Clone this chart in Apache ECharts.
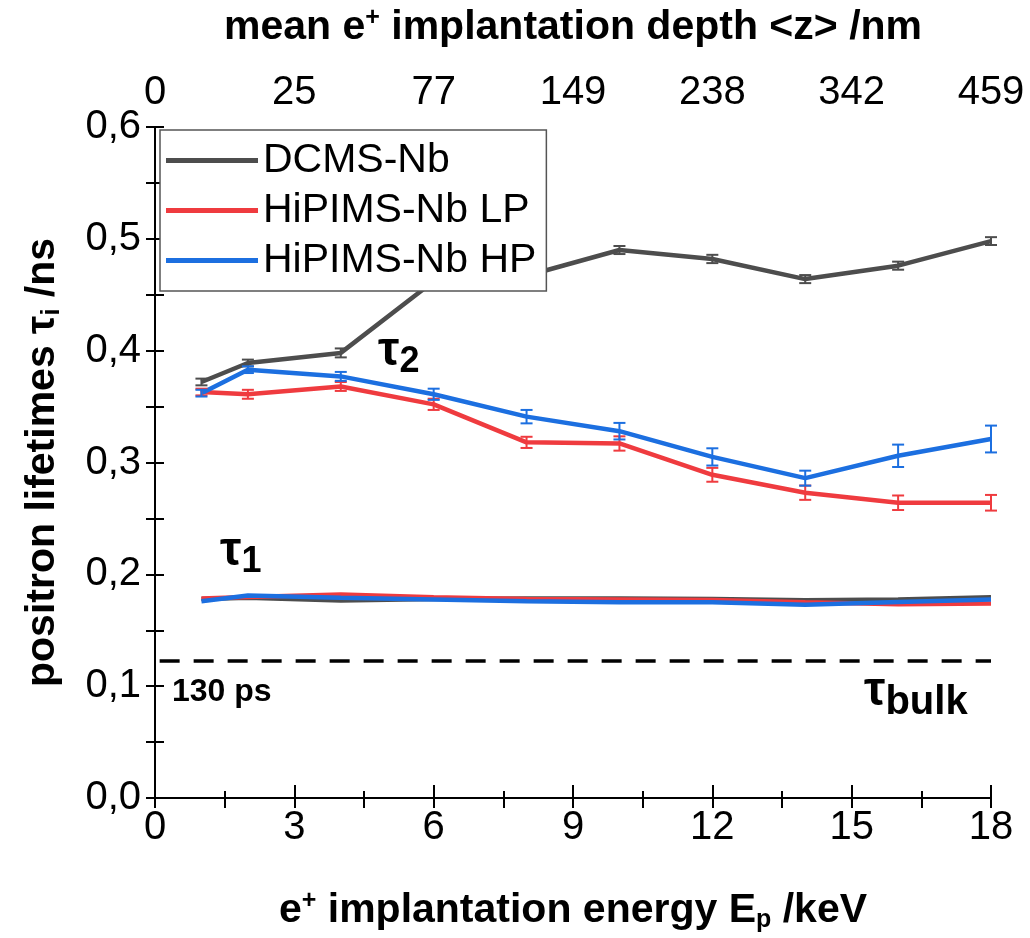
<html>
<head>
<meta charset="UTF-8">
<script src="https://cdn.jsdelivr.net/npm/echarts/dist/echarts.min.js"></script>
<style>
    html, body { margin: 0; padding: 0; background: #fff; }
    #chart { width: 1030px; height: 938px; }
</style>
</head>
<body>
<div id="chart"></div>
<script>
    // implantation energy (keV)
    var energy = [1, 2, 4, 6, 8, 10, 12, 14, 16, 18];
    // top axis: mean implantation depth for E = 0,3,...,18
    var depthLabels = ['0', '25', '77', '149', '238', '342', '459'];

    // tau2 (ns) and errors
    var dcmsTau2 = [0.372, 0.389, 0.398, 0.462, 0.467, 0.490, 0.482, 0.464, 0.476, 0.498];
    var dcmsErr2 = [0.003, 0.003, 0.004, 0.003, 0.003, 0.0036, 0.0037, 0.0036, 0.0036, 0.0035];
    var lpTau2 = [0.363, 0.361, 0.368, 0.352, 0.318, 0.317, 0.289, 0.273, 0.264, 0.264];
    var lpErr2 = [0.003, 0.004, 0.004, 0.005, 0.005, 0.0064, 0.0062, 0.0064, 0.0065, 0.007];
    var hpTau2 = [0.362, 0.383, 0.377, 0.361, 0.341, 0.328, 0.305, 0.286, 0.306, 0.321];
    var hpErr2 = [0.003, 0.003, 0.004, 0.005, 0.006, 0.0074, 0.0077, 0.0067, 0.010, 0.012];

    // tau1 (ns)
    var dcmsTau1 = [0.178, 0.179, 0.1765, 0.178, 0.1785, 0.1785, 0.178, 0.1769, 0.1775, 0.1795];
    var lpTau1 = [0.1783, 0.1798, 0.182, 0.1795, 0.178, 0.1775, 0.177, 0.175, 0.1733, 0.174];
    var hpTau1 = [0.176, 0.181, 0.179, 0.1775, 0.176, 0.175, 0.175, 0.1727, 0.1753, 0.1775];

    var tauBulk = 0.123;

    var cGray = '#4d4d4d', cRed = '#ef3b3f', cBlue = '#1c6fe0';
    var font = 'Liberation Sans, Arial, sans-serif';

    function pairs(ys) {
        var out = [];
        for (var i = 0; i < energy.length; i++) out.push([energy[i], ys[i]]);
        return out;
    }
    function errData(ys, es) {
        var out = [];
        for (var i = 0; i < energy.length; i++) out.push([energy[i], ys[i] - es[i], ys[i] + es[i]]);
        return out;
    }
    function errSeries(name, ys, es, color) {
        return {
            name: name,
            type: 'custom',
            data: errData(ys, es),
            z: 4,
            renderItem: function (params, api) {
                var lo = api.coord([api.value(0), api.value(1)]);
                var hi = api.coord([api.value(0), api.value(2)]);
                var w = 6;
                var st = { stroke: color, lineWidth: 2 };
                return {
                    type: 'group',
                    children: [
                        { type: 'line', shape: { x1: lo[0], y1: lo[1], x2: hi[0], y2: hi[1] }, style: st },
                        { type: 'line', shape: { x1: lo[0] - w, y1: lo[1], x2: lo[0] + w, y2: lo[1] }, style: st },
                        { type: 'line', shape: { x1: hi[0] - w, y1: hi[1], x2: hi[0] + w, y2: hi[1] }, style: st }
                    ]
                };
            }
        };
    }
    function lineSeries(name, ys, color, extra) {
        var s = {
            name: name,
            type: 'line',
            data: pairs(ys),
            symbol: 'none',
            z: 3,
            lineStyle: { color: color, width: 4.5 },
            itemStyle: { color: color }
        };
        if (extra) for (var k in extra) s[k] = extra[k];
        return s;
    }

    var chart = echarts.init(document.getElementById('chart'));
    var axisLine = { show: true, lineStyle: { color: '#000', width: 2 } };
    var titleRich = {
        b: { fontSize: 41, fontWeight: 'bold', color: '#000', fontFamily: font },
        sup: { fontSize: 25, fontWeight: 'bold', color: '#000', fontFamily: font, padding: [0, 0, 18, 0] },
        sub: { fontSize: 25, fontWeight: 'bold', color: '#000', fontFamily: font, padding: [20, 0, 0, 0] }
    };
    function tick(len) {
        return { show: true, inside: true, length: len, lineStyle: { color: '#000', width: 2 } };
    }
    function minor(len) {
        return { show: true, splitNumber: 2, length: len, lineStyle: { color: '#000', width: 2 } };
    }

    chart.setOption({
        animation: false,
        backgroundColor: '#fff',
        textStyle: { fontFamily: font },
        grid: { left: 155, right: 39, top: 127, bottom: 137 },
        legend: {
            left: 160, top: 130, z: 20,
            orient: 'vertical',
            data: ['DCMS-Nb', 'HiPIMS-Nb LP', 'HiPIMS-Nb HP'],
            icon: 'rect',
            itemWidth: 92, itemHeight: 5,
            itemGap: 9,
            itemTextGap: 16,
            padding: [10, 10, 10, 6],
            backgroundColor: '#fff',
            borderColor: '#555',
            borderWidth: 1.5,
            textStyle: { fontSize: 41, color: '#000', fontFamily: font }
        },
        xAxis: [{
            type: 'value', position: 'bottom',
            min: 0, max: 18, interval: 3,
            name: '{b|e}{sup|+}{b| implantation energy E}{sub|p}{b| /keV}',
            nameLocation: 'middle', nameGap: 90,
            nameTextStyle: { rich: titleRich },
            axisLine: axisLine,
            axisTick: tick(13),
            minorTick: minor(7),
            axisLabel: { fontSize: 40, color: '#000', margin: 10 },
            splitLine: { show: false }
        }, {
            type: 'value', position: 'top',
            min: 0, max: 18, interval: 3,
            name: '{b|mean e}{sup|+}{b| implantation depth <z> /nm}',
            nameLocation: 'middle', nameGap: 78,
            nameTextStyle: { rich: titleRich },
            axisLine: axisLine,
            axisTick: tick(10),
            minorTick: minor(10),
            axisLabel: {
                fontSize: 40, color: '#000', margin: 14,
                formatter: function (v) { return depthLabels[Math.round(v / 3)]; }
            },
            splitLine: { show: false }
        }],
        yAxis: [{
            type: 'value', position: 'left',
            min: 0, max: 0.6, interval: 0.1,
            name: '{b|positron lifetimes τ}{sub|i}{b| /ns}',
            nameLocation: 'middle', nameGap: 90,
            nameTextStyle: { rich: titleRich },
            axisLine: axisLine,
            axisTick: tick(9),
            minorTick: minor(9),
            axisLabel: {
                fontSize: 40, color: '#000', margin: 14,
                formatter: function (v) { return v.toFixed(1).replace('.', ','); }
            },
            splitLine: { show: false }
        }, {
            type: 'value', position: 'right',
            min: 0, max: 0.6, interval: 0.1,
            axisLine: axisLine,
            axisTick: tick(9),
            minorTick: minor(9),
            axisLabel: { show: false },
            splitLine: { show: false }
        }],
        series: [
            lineSeries('DCMS-Nb', dcmsTau2, cGray, {
                markLine: {
                    silent: true, symbol: 'none', label: { show: false },
                    lineStyle: { color: '#000', type: [20, 14], width: 3.5 },
                    data: [[{ coord: [0.1, tauBulk] }, { coord: [18, tauBulk] }]]
                }
            }),
            lineSeries('HiPIMS-Nb LP', lpTau2, cRed),
            lineSeries('HiPIMS-Nb HP', hpTau2, cBlue),
            lineSeries('DCMS-Nb', dcmsTau1, cGray),
            lineSeries('HiPIMS-Nb LP', lpTau1, cRed),
            lineSeries('HiPIMS-Nb HP', hpTau1, cBlue),
            errSeries('DCMS-Nb', dcmsTau2, dcmsErr2, cGray),
            errSeries('HiPIMS-Nb LP', lpTau2, lpErr2, cRed),
            errSeries('HiPIMS-Nb HP', hpTau2, hpErr2, cBlue)
        ],
        graphic: [
            {
                type: 'text', left: 378, top: 328, z: 10,
                style: {
                    text: '{t|τ}{s|2}',
                    rich: {
                        t: { fontSize: 48, fontWeight: 'bold', fill: '#000', fontFamily: font },
                        s: { fontSize: 36, fontWeight: 'bold', fill: '#000', fontFamily: font, padding: [20, 0, 0, 0] }
                    }
                }
            },
            {
                type: 'text', left: 220, top: 528, z: 10,
                style: {
                    text: '{t|τ}{s|1}',
                    rich: {
                        t: { fontSize: 48, fontWeight: 'bold', fill: '#000', fontFamily: font },
                        s: { fontSize: 36, fontWeight: 'bold', fill: '#000', fontFamily: font, padding: [20, 0, 0, 0] }
                    }
                }
            },
            {
                type: 'text', left: 172, top: 676, z: 10,
                style: { text: '130 ps', fontSize: 32, fontWeight: 'bold', fill: '#000', fontFamily: font }
            },
            {
                type: 'text', left: 864, top: 668, z: 10,
                style: {
                    text: '{t|τ}{s|bulk}',
                    rich: {
                        t: { fontSize: 48, fontWeight: 'bold', fill: '#000', fontFamily: font },
                        s: { fontSize: 40, fontWeight: 'bold', fill: '#000', fontFamily: font, padding: [22, 0, 0, 0] }
                    }
                }
            }
        ]
    });
</script>
</body>
</html>
